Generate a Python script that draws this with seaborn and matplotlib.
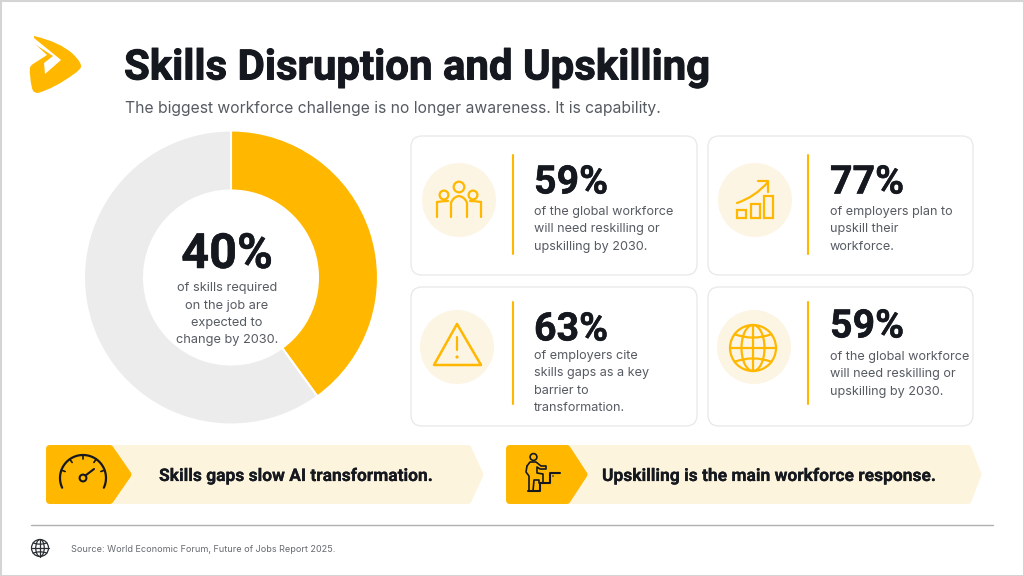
import numpy as np
import seaborn as sns
import matplotlib.pyplot as plt
import matplotlib.patheffects as pe
from matplotlib.patches import Circle, Ellipse, FancyBboxPatch, PathPatch, Polygon, Rectangle
from matplotlib.path import Path

title = "Skills Disruption and Upskilling"
subtitle = "The biggest workforce challenge is no longer awareness. It is capability."

donut_labels = ["Skills expected to change", "Other skills"]
donut_values = [40, 60]
donut_big = "40%"
donut_text = ["of skills required", "on the job are", "expected to", "change by 2030."]

card_numbers = ["59%", "77%", "63%", "59%"]
card_texts = [
    ["of the global workforce", "will need reskilling or", "upskilling by 2030."],
    ["of employers plan to", "upskill their", "workforce."],
    ["of employers cite", "skills gaps as a key", "barrier to", "transformation."],
    ["of the global workforce", "will need reskilling or", "upskilling by 2030."],
]
banner_texts = ["Skills gaps slow AI transformation.", "Upskilling is the main workforce response."]
source = "Source: World Economic Forum, Future of Jobs Report 2025."

YELLOW = "#ffb700"
CREAM = "#fdf4dd"
PALE = "#fdf5e4"
GREY = "#ececec"
DARK = "#15191f"
BODY = "#565b62"
HEAD = ["Roboto", "DejaVu Sans"]

sns.set_theme(style="white")
plt.rcParams["font.family"] = ["Inter", "Roboto", "DejaVu Sans"]

fig = plt.figure(figsize=(10.24, 5.76), dpi=100, facecolor="white")
ax = fig.add_axes([0, 0, 1, 1])
ax.set_xlim(0, 1024)
ax.set_ylim(576, 0)
ax.axis("off")


def stroke(xs, ys, color=YELLOW, lw=1.6):
    ax.plot(xs, ys, color=color, lw=lw, solid_capstyle="round", solid_joinstyle="round", zorder=5)


def curve(pts, color=YELLOW, lw=1.6):
    codes = [Path.MOVETO] + [Path.CURVE3] * (len(pts) - 1)
    ax.add_patch(PathPatch(Path(pts, codes), fc="none", ec=color, lw=lw, capstyle="round", zorder=5))


def ring(x, y, r, color=YELLOW, lw=1.6):
    ax.add_patch(Circle((x, y), r, fc="none", ec=color, lw=lw, zorder=5))


def bold_text(x, y, s, size, ha="left", extra=0.35):
    t = ax.text(x, y, s, fontsize=size, fontweight="bold", family=HEAD, color=DARK, ha=ha, va="center", zorder=6)
    t.set_path_effects([pe.withStroke(linewidth=extra, foreground=DARK)])


# page border
ax.add_patch(Rectangle((0.5, 0.5), 1023, 575, fc="none", ec="#d4d4d4", lw=1.5))

# logo
q = Path.CURVE3
logo_pts = [(34, 36), (60, 42), (73, 54), (82, 63), (81, 67), (80, 70), (74, 74), (55, 88), (38, 93),
            (33, 93), (32, 88), (29, 75), (30, 68), (30, 66), (33, 64), (47, 55), (34, 43), (34, 36)]
logo_codes = [Path.MOVETO, q, q, q, q, q, q, q, q, q, q, q, q, q, q, Path.LINETO, Path.LINETO, Path.CLOSEPOLY]
ax.add_patch(PathPatch(Path(logo_pts, logo_codes), fc=YELLOW, ec="none"))
ax.add_patch(Polygon([(34, 38), (61, 60), (45, 74), (44, 63), (53, 56), (33, 43)], fc="white", ec="none"))

bold_text(124, 68, title, 30.2, extra=0.7)
ax.text(125, 108, subtitle, fontsize=11.3, color=BODY, va="center", ha="left")

# donut, clockwise from the top
donut_ax = fig.add_axes([(231 - 150) / 1024, 1 - (277.5 + 150) / 576, 300 / 1024, 300 / 576])
donut_ax.pie(donut_values, colors=sns.color_palette([YELLOW, GREY]), startangle=90, counterclock=False,
             radius=147 / 150, wedgeprops=dict(width=60 / 150, edgecolor="white", linewidth=1.5))
donut_ax.set_xlim(-1, 1)
donut_ax.set_ylim(-1, 1)

bold_text(227, 255, donut_big, 35, ha="center")
for t, y in zip(donut_text, [288, 306, 323, 340]):
    ax.text(227, y, t, fontsize=9.2, color=BODY, ha="center", va="center", zorder=6)

# cards: left, top, right, bottom, circle x, circle y, divider x, divider top, divider bottom,
# text x, number y, first text line y
cards = [
    (411, 136, 697, 275, 459, 200, 513, 155, 254, 534, 183, 212),
    (708, 136, 973, 275, 755, 200, 808, 155, 254, 830, 183, 212),
    (411, 287, 697, 426, 457, 347, 513, 302, 404, 534, 330, 356),
    (708, 287, 973, 426, 754, 347, 808, 302, 404, 830, 327, 357),
]
for i, (x0, y0, x1, y1, cx, cy, dx, d0, d1, tx, ny, ly) in enumerate(cards):
    ax.add_patch(FancyBboxPatch((x0 + 10, y0 + 10), x1 - x0 - 20, y1 - y0 - 20,
                                boxstyle="round,pad=10,rounding_size=11", fc="white", ec="#e8e8e8", lw=0.9))
    ax.add_patch(Circle((cx, cy), 37, fc=PALE, ec="none"))
    stroke([dx, dx], [d0, d1], lw=1.5)
    bold_text(tx, ny, card_numbers[i], 28.3)
    for j, t in enumerate(card_texts[i]):
        ax.text(tx, ly + j * 17.4, t, fontsize=9.1, color=BODY, ha="left", va="center")

# people icon
ring(459, 187, 5.3)
ring(444, 195, 4.4)
ring(473, 195, 4.4)
curve([(451, 217), (451, 208), (451, 203), (453, 197), (459, 196), (465, 197), (467, 203), (467, 208), (467, 217)])
curve([(437, 217), (437, 208), (437, 202), (443, 201), (448, 201)])
curve([(481, 217), (481, 208), (481, 202), (475, 201), (470, 201)])

# growth icon
for bx, by in [(737, 210), (751, 204), (764, 196)]:
    ax.add_patch(Rectangle((bx, by), 9, 218 - by, fc="none", ec=YELLOW, lw=1.6, zorder=5))
curve([(737, 203), (755, 197), (768, 182)])
stroke([758, 768, 768], [181, 181, 192])

# warning icon
ax.add_patch(Polygon([(457, 324), (481, 365), (434, 365)], fc="none", ec=YELLOW, lw=1.8, joinstyle="round", zorder=5))
stroke([457, 457], [337, 350])
ax.add_patch(Circle((457, 357), 1.6, fc=YELLOW, ec="none", zorder=5))


def globe(x, y, r, color, lw):
    ring(x, y, r, color, lw)
    ax.add_patch(Ellipse((x, y), r, 2 * r, fc="none", ec=color, lw=lw, zorder=5))
    stroke([x, x], [y - r, y + r], color, lw)
    stroke([x - r, x + r], [y, y], color, lw)
    curve([(x - 0.8 * r, y - 0.6 * r), (x, y - 0.3 * r), (x + 0.8 * r, y - 0.6 * r)], color, lw)
    curve([(x - 0.8 * r, y + 0.6 * r), (x, y + 0.3 * r), (x + 0.8 * r, y + 0.6 * r)], color, lw)


globe(753, 348, 23, YELLOW, 1.6)

# banners: left, right end, shoulder, dark part end, dark tip, text x
banners = [(46, 484, 468, 110, 132, 159), (506, 982, 968, 567, 588, 602)]
for i, (x0, x1, sh, ds, dt, tx) in enumerate(banners):
    ax.add_patch(Polygon([(x0 + 3.5, 448.5), (sh, 448.5), (x1 - 4, 474.5), (sh, 500.5), (x0 + 3.5, 500.5)],
                         fc=CREAM, ec=CREAM, lw=5, joinstyle="round"))
    ax.add_patch(Polygon([(x0 + 3.5, 448.5), (ds, 448.5), (dt - 4, 474.5), (ds, 500.5), (x0 + 3.5, 500.5)],
                         fc=YELLOW, ec=YELLOW, lw=5, joinstyle="round"))
    bold_text(tx, 476.5, banner_texts[i], 12.55, extra=0.15)

# gauge icon
a = np.radians(np.linspace(205, -25, 50))
stroke(83 + 23 * np.cos(a), 478 - 23 * np.sin(a), DARK, 1.6)
for deg in [160, 125, 90, 55, 20]:
    r = np.radians(deg)
    stroke([83 + 23 * np.cos(r), 83 + 19 * np.cos(r)], [478 - 23 * np.sin(r), 478 - 19 * np.sin(r)], DARK, 1.2)
ring(83, 478, 3.4, DARK, 1.5)
stroke([85.5, 94], [475.5, 469], DARK, 1.5)

# climbing icon
ring(533.5, 457, 3.4, DARK, 1.2)
stroke([527, 530, 536, 541, 546, 546, 540, 537, 537, 543, 543], [466, 462, 462, 466, 466, 469, 469, 467, 473, 474, 483], DARK, 1.2)
stroke([527, 526, 529, 529], [466, 472, 476, 491], DARK, 1.2)
stroke([533, 534, 539, 539], [491, 480, 480, 483], DARK, 1.2)
stroke([528, 540, 540, 550, 550, 560], [491, 491, 483, 483, 473, 473], DARK, 1.5)
ax.add_patch(Circle((553, 476), 0.8, fc=DARK, ec="none", zorder=5))

# footer
ax.plot([31, 993], [525, 525], color="#b0b0b0", lw=1)
globe(40, 548, 8.5, "#2a2e33", 0.9)
ax.text(71, 549, source, fontsize=6.55, color="#666a70", ha="left", va="center")

fig.savefig("out.png", dpi=100, facecolor="white")
